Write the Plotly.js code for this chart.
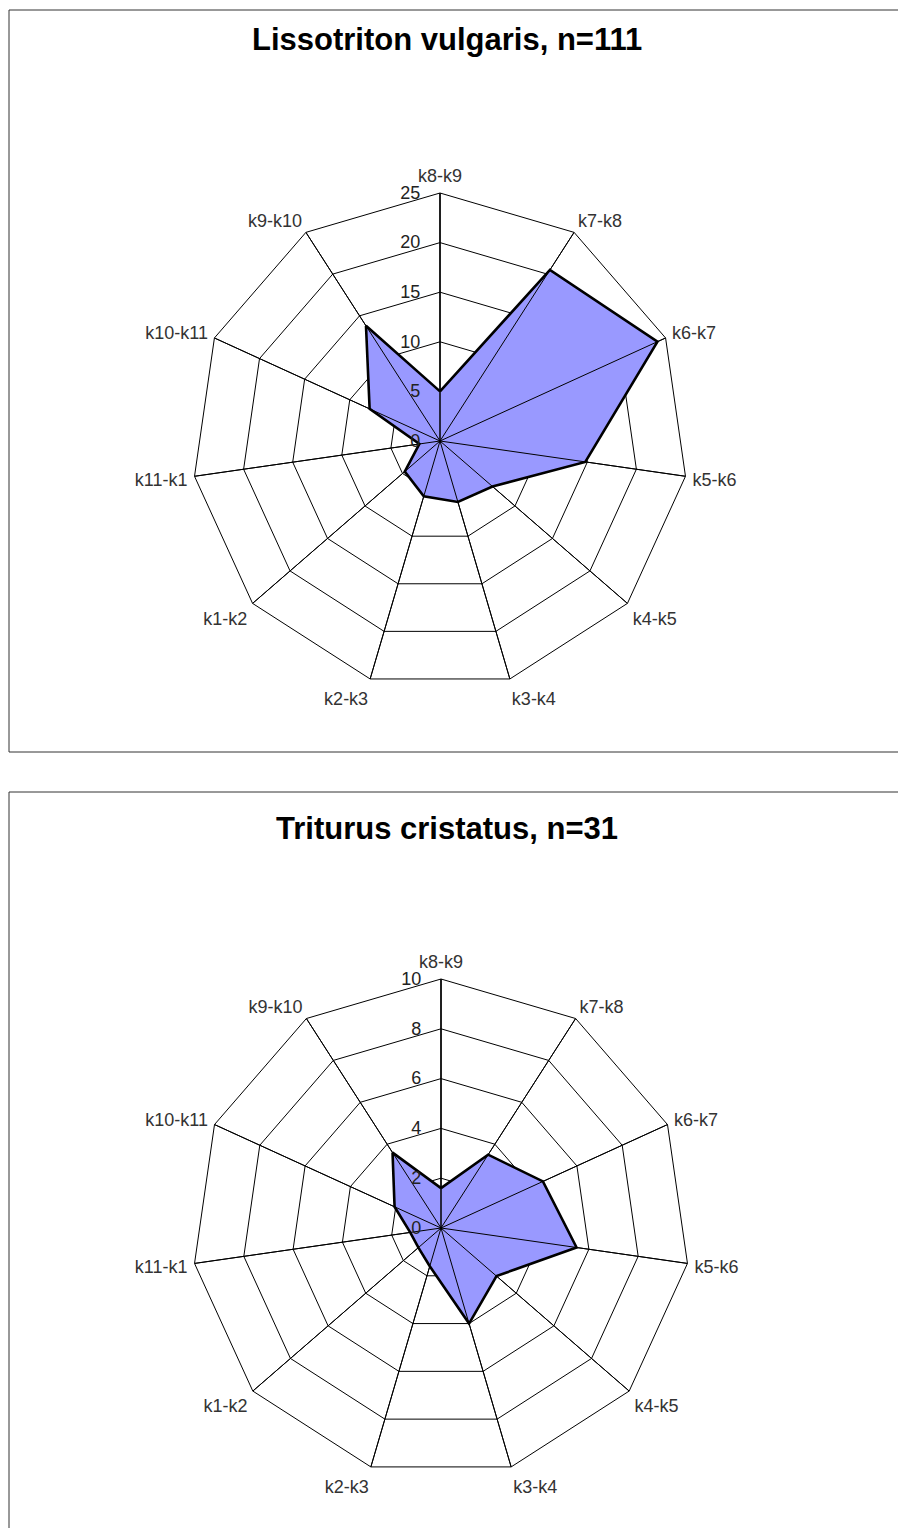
<!DOCTYPE html>
<html><head><meta charset="utf-8">
<script src="https://cdn.plot.ly/plotly-3.0.1.min.js"></script>
<style>html,body{margin:0;padding:0;background:#fff}#chart{width:898px;height:1528px}</style>
</head><body><div id="chart"></div>
<script>
const categories = ['k8-k9','k7-k8','k6-k7','k5-k6','k4-k5','k3-k4','k2-k3','k1-k2','k11-k1','k10-k11','k9-k10'];
const lissotritonValues = [5, 20.5, 24.1, 14.8, 7, 6.4, 5.8, 4.7, 2.1, 7.8, 13.8];
const triturusValues = [1.6, 3.5, 4.5, 5.5, 2.95, 4, 1.6, 1.2, 1.25, 2.05, 3.6];
const lissotritonTitle = 'Lissotriton vulgaris, n=111';
const triturusTitle = 'Triturus cristatus, n=31';
const lissotritonTicks = [0, 5, 10, 15, 20, 25];
const triturusTicks = [0, 2, 4, 6, 8, 10];

const W = 898, H = 1528;
const FONT = 'Liberation Sans, Arial, sans-serif';

function closed(arr) { return arr.concat([arr[0]]); }
function spokes(maxR) {
  const r = [], t = [];
  categories.forEach(c => { r.push(0, maxR, null); t.push(c, c, c); });
  return {r, t};
}
function tracesFor(values, ticks, subplot) {
  const maxR = ticks[ticks.length - 1];
  const sp = spokes(maxR);
  return [
    {type: 'scatterpolar', subplot, r: closed(values), theta: closed(categories), mode: 'lines',
     fill: 'toself', fillcolor: '#9999ff', line: {color: 'rgba(0,0,0,0)', width: 0}, hoverinfo: 'skip', showlegend: false},
    {type: 'scatterpolar', subplot, r: sp.r, theta: sp.t, mode: 'lines', connectgaps: false,
     line: {color: '#000', width: 1}, hoverinfo: 'skip', showlegend: false},
    {type: 'scatterpolar', subplot, r: closed(values), theta: closed(categories), mode: 'lines',
     line: {color: '#000', width: 2.6}, showlegend: false}
  ];
}
function polarLayout(ticks, domain) {
  const maxR = ticks[ticks.length - 1];
  return {
    domain,
    bgcolor: 'rgba(0,0,0,0)',
    gridshape: 'linear',
    angularaxis: {
      type: 'category', categoryorder: 'array', categoryarray: categories,
      direction: 'clockwise', rotation: 90,
      showgrid: true, gridcolor: '#000', gridwidth: 1,
      showline: true, linecolor: '#000', linewidth: 1,
      ticks: 'outside', ticklen: 3, tickcolor: 'rgba(0,0,0,0)',
      tickfont: {family: FONT, size: 18, color: '#333'}
    },
    radialaxis: {
      range: [0, maxR], tickvals: ticks, ticktext: ticks.map(String),
      angle: 90, side: 'counterclockwise', tickangle: 90,
      showgrid: true, gridcolor: '#000', gridwidth: 1,
      showline: true, linecolor: '#000', linewidth: 1,
      ticks: 'outside', ticklen: 13, tickcolor: 'rgba(0,0,0,0)',
      tickfont: {family: FONT, size: 18, color: '#222'}
    }
  };
}

const data = tracesFor(lissotritonValues, lissotritonTicks, 'polar')
  .concat(tracesFor(triturusValues, triturusTicks, 'polar2'));

const layout = {
  width: W, height: H, autosize: false,
  margin: {l: 0, r: 0, t: 0, b: 0},
  paper_bgcolor: '#fff', plot_bgcolor: '#fff',
  showlegend: false,
  polar: polarLayout(lissotritonTicks, {x: [192/W, 688/W], y: [839/H, 1335/H]}),
  polar2: polarLayout(triturusTicks, {x: [192/W, 690/W], y: [51/H, 549/H]}),
  shapes: [
    {type: 'rect', xref: 'paper', yref: 'paper', x0: 9/W, x1: 910/W, y0: 1 - 752/H, y1: 1 - 10/H,
     line: {color: '#333', width: 1}, fillcolor: 'rgba(0,0,0,0)', layer: 'below'},
    {type: 'rect', xref: 'paper', yref: 'paper', x0: 9/W, x1: 910/W, y0: -0.05, y1: 1 - 792/H,
     line: {color: '#333', width: 1}, fillcolor: 'rgba(0,0,0,0)', layer: 'below'}
  ],
  annotations: [
    {xref: 'paper', yref: 'paper', x: 447/W, y: 1 - 40/H, xanchor: 'center', yanchor: 'middle', showarrow: false,
     text: '<b>' + lissotritonTitle + '</b>', font: {family: FONT, size: 31, color: '#000'}},
    {xref: 'paper', yref: 'paper', x: 447/W, y: 1 - 828/H, xanchor: 'center', yanchor: 'middle', showarrow: false,
     text: '<b>' + triturusTitle + '</b>', font: {family: FONT, size: 31, color: '#000'}}
  ]
};

Plotly.newPlot('chart', data, layout, {staticPlot: true, displayModeBar: false});
</script></body></html>
